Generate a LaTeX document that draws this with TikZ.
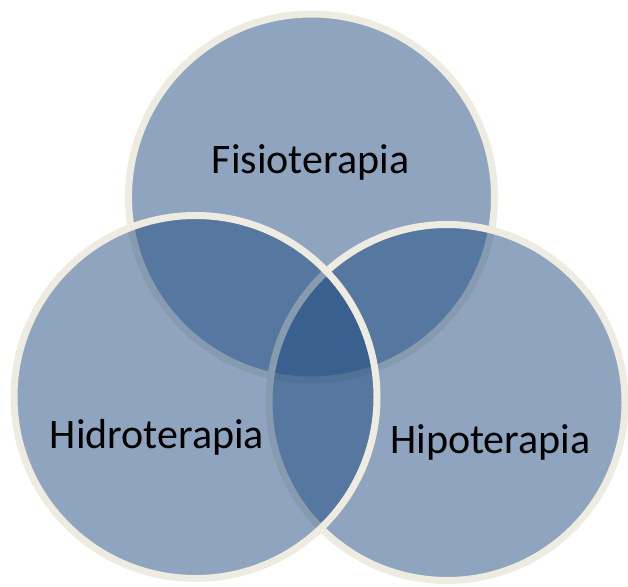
\documentclass[tikz,border=0pt]{standalone}
\usepackage{fontspec}
\setmainfont{Carlito}
\usepackage{xcolor}
\usepackage{tikz}
\usetikzlibrary{positioning}
\definecolor{vennblue}{RGB}{31,74,128}
\definecolor{venncream}{RGB}{238,236,225}

\begin{document}
\begin{tikzpicture}[
    x=1pt, y=-1pt,
    venn/.style={circle, draw=venncream, line width=7pt, fill=vennblue, fill opacity=0.5, draw opacity=1, inner sep=0pt},
    vennlabel/.style={font=\fontsize{42}{50}\selectfont, text=black, anchor=base, inner sep=0pt}
]
\useasboundingbox (0,0) rectangle (628,586);

% Circles: top, right, left
\node[venn, minimum size=366pt] (fisio) at (311.5,197) {};
\node[venn, minimum size=356pt] (hipo) at (447,402.5) {};
\node[venn, minimum size=363pt] (hidro) at (195.5,397) {};

% Labels
\node[vennlabel] (fisio-text) at (310.5,173) {Fisioterapia};
\node[vennlabel] (hidro-text) at (157,448) {Hidroterapia};
\node[vennlabel] (hipo-text) at (490.5,453) {Hipoterapia};

\end{tikzpicture}
\end{document}
